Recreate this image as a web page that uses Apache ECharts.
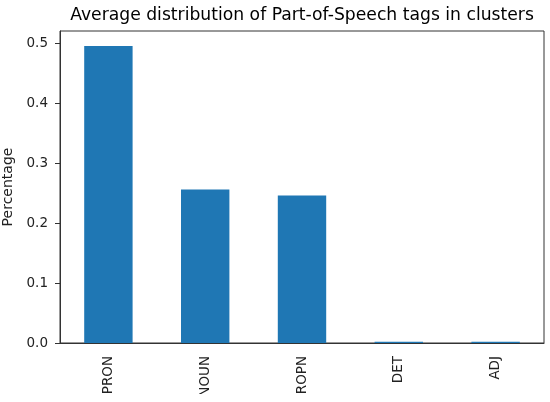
<!DOCTYPE html>
<html>
<head>
<meta charset="utf-8">
<script src="https://cdn.jsdelivr.net/npm/echarts@6/dist/echarts.min.js"></script>
<style>
  html, body { margin: 0; padding: 0; background: #fff; }
  /* the original figure is cut off just under the tick labels */
  #chart { width: 550px; height: 394px; }
</style>
</head>
<body>
<div id="chart"></div>
<script>
// data
const tags = ['PRON', 'NOUN', 'PROPN', 'DET', 'ADJ'];
const shares = [0.495, 0.256, 0.246, 0.002, 0.002];
const yTicks = [0, 0.1, 0.2, 0.3, 0.4, 0.5];

(function () {
    let myChart = echarts.init(document.getElementById('chart'));
    const font = 'DejaVu Sans';
    let option = {
        animation: false,
        title: {
            text: 'Average distribution of Part-of-Speech tags in clusters',
            left: 297,
            textAlign: 'center',
            top: 2,
            textStyle: { fontFamily: font, fontSize: 17.2, fontWeight: 'normal', color: '#000' }
        },
        // plot box fixed like matplotlib; the long tick labels may run off the bottom
        grid: { left: 60, right: 6, top: 31, bottom: 51, containLabel: false, outerBoundsMode: 'none',
            show: true, borderColor: '#333', borderWidth: 1 },
        xAxis: {
            type: 'category',
            data: tags,
            axisLine: { lineStyle: { color: '#333' } },
            axisTick: { alignWithLabel: true, length: 5, lineStyle: { color: '#333' } },
            axisLabel: { rotate: 90, margin: 13, fontFamily: font, fontSize: 13.5, color: '#222' }
        },
        yAxis: {
            type: 'value',
            min: 0,
            max: 0.52,
            name: 'Percentage',
            nameLocation: 'middle',
            nameGap: 43,
            nameTextStyle: { fontFamily: font, fontSize: 14, color: '#222' },
            axisLine: { show: true, lineStyle: { color: '#333' } },
            axisTick: { show: true, length: 5, customValues: yTicks, lineStyle: { color: '#333' } },
            axisLabel: { customValues: yTicks, margin: 12, fontFamily: font, fontSize: 13.5, color: '#222',
                formatter: v => v.toFixed(1) },
            splitLine: { show: false }
        },
        series: [{
            type: 'bar',
            data: shares,
            barWidth: '50%',
            itemStyle: { color: '#1f77b4' }
        }]
    };
    myChart.setOption(option);
})();
</script>
</body>
</html>
